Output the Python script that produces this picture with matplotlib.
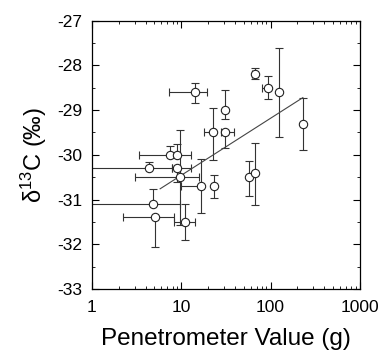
import numpy as np
import matplotlib
matplotlib.use("Agg")
import matplotlib.pyplot as plt
from matplotlib.ticker import LogLocator, NullFormatter, MultipleLocator

# data: penetrometer value (g), delta13C, and error-bar bounds
pen   = [14.1, 67.0, 93.0, 125.0, 231.0, 31.0, 22.5, 31.0, 7.5, 9.0, 9.0, 4.4, 9.7, 16.7, 23.5, 58.0, 67.0, 4.8, 5.1, 11.1]
d13c  = [-28.6, -28.2, -28.5, -28.6, -29.3, -29.0, -29.5, -29.5, -30.0, -30.0, -30.3, -30.3, -30.5, -30.7, -30.7, -30.5, -30.4, -31.1, -31.4, -31.5]
x_lo  = [7.3, 62.0, 80.0, 125.0, 231.0, 31.0, 18.2, 28.0, 3.4, 9.0, 7.8, 0.5, 3.0, 10.0, 23.5, 58.0, 67.0, 0.5, 2.2, 8.4]
x_hi  = [19.3, 67.0, 93.0, 125.0, 231.0, 31.0, 24.0, 39.0, 13.0, 9.0, 13.0, 7.8, 16.0, 16.7, 23.5, 58.0, 67.0, 9.6, 8.2, 14.3]
y_lo  = [-28.83, -28.3, -28.75, -29.6, -29.9, -29.2, -30.12, -29.85, -30.0, -30.0, -30.6, -30.3, -31.58, -31.3, -30.96, -30.93, -31.13, -31.1, -32.06, -31.9]
y_hi  = [-28.4, -28.05, -28.23, -27.62, -28.73, -28.55, -28.95, -29.5, -29.8, -29.75, -30.3, -30.15, -29.44, -30.1, -30.46, -30.13, -29.74, -30.76, -31.4, -31.1]
fit_x = [5.8, 230.0]
fit_y = [-30.76, -28.72]

x_ticks = [1, 10, 100, 1000]
x_ticklabels = ["1", "10", "100", "1000"]
y_ticks = [-33, -32, -31, -30, -29, -28, -27]
y_ticklabels = ["-33", "-32", "-31", "-30", "-29", "-28", "-27"]

plt.rcParams['font.family'] = ['Liberation Sans', 'DejaVu Sans']

fig = plt.figure(figsize=(3.8, 3.58), dpi=100)
ax = fig.add_axes([0.242, 0.193, 0.705, 0.749])

pen_a = np.array(pen); d_a = np.array(d13c)
xerr = np.vstack([pen_a - np.array(x_lo), np.array(x_hi) - pen_a])
yerr = np.vstack([d_a - np.array(y_lo), np.array(y_hi) - d_a])

ax.errorbar(pen_a, d_a, xerr=xerr, yerr=yerr, fmt='none', ecolor='#333333',
            elinewidth=0.8, capsize=3, capthick=0.8, zorder=2)
ax.plot(fit_x, fit_y, color='#444444', lw=0.8, zorder=3)
ax.plot(pen_a, d_a, 'o', ms=6, mfc='white', mec='#222222', mew=0.8, zorder=4)

ax.set_xscale('log')
ax.set_xlim(1, 1000)
ax.set_ylim(-33, -27)
ax.set_xticks(x_ticks)
ax.set_xticklabels(x_ticklabels)
ax.xaxis.set_minor_locator(LogLocator(base=10, subs=np.arange(2, 10)))
ax.xaxis.set_minor_formatter(NullFormatter())
ax.set_yticks(y_ticks)
ax.set_yticklabels(y_ticklabels)
ax.yaxis.set_minor_locator(MultipleLocator(0.5))

ax.tick_params(which='both', direction='in', top=True, right=True, labelsize=12.5)
ax.tick_params(axis='x', pad=8)
ax.tick_params(axis='y', pad=7)
ax.tick_params(which='major', length=5, width=0.8)
ax.tick_params(which='minor', length=2.5, width=0.6)
for s in ax.spines.values():
    s.set_linewidth(0.9)

ax.set_xlabel("Penetrometer Value (g)", fontsize=17.5, labelpad=9)
ax.set_ylabel("$\\mathregular{\\delta^{13}C}$ (‰)", fontsize=17, labelpad=6)

fig.savefig("out.png", dpi=100)
